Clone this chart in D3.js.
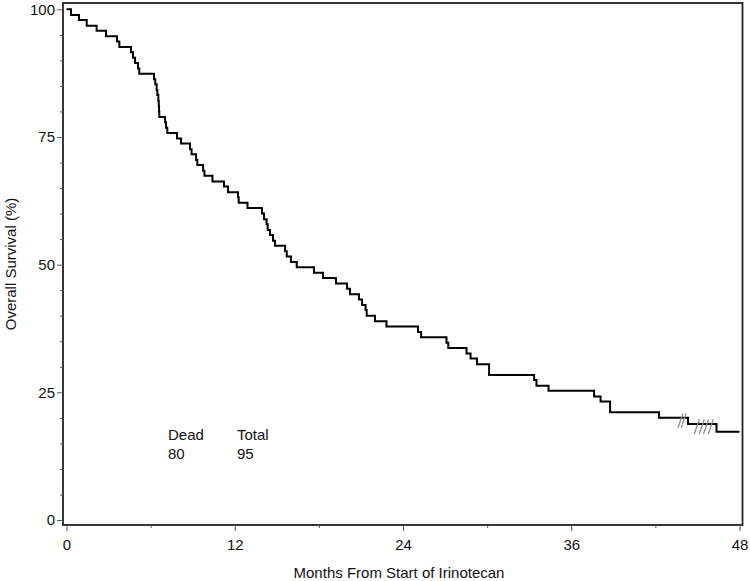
<!DOCTYPE html>
<html><head><meta charset="utf-8">
<script src="https://cdn.jsdelivr.net/npm/d3@7"></script>
<style>
body{margin:0;background:#fff}
svg{display:block}
text{font-family:Arial,"Liberation Sans",sans-serif;fill:#111}
</style>
</head><body>
<svg id="chart" width="750" height="581"></svg>
<script>
// ---- data ----
const stepMonths = [0, 0.32, 0.89, 1.44, 2.15, 2.82, 3.6, 3.77, 4.6, 4.74, 4.89, 5.1, 5.19,
  6.24, 6.33, 6.43, 6.48, 6.55, 6.58, 6.6, 6.62, 7.03, 7.1, 7.19, 7.88, 8.17, 8.81, 8.92,
  9.24, 9.33, 9.74, 9.84, 10.41, 11.23, 11.52, 12.23, 12.28, 12.91, 13.94, 14.09, 14.27,
  14.35, 14.51, 14.73, 14.87, 15.59, 15.71, 16.01, 16.42, 17.65, 18.3, 19.22, 20.01, 20.22,
  20.86, 21.08, 21.33, 21.41, 22.0, 22.82, 25.07, 25.29, 27.1, 27.23, 28.53, 28.82, 29.28,
  30.14, 33.35, 33.52, 34.38, 37.63, 38.09, 38.77, 42.26, 44.33, 46.36, 48];
const survivalPct = [100, 98.9, 97.9, 96.8, 95.8, 94.7, 93.7, 92.6, 91.6, 90.5, 89.5, 88.4, 87.4,
  86.3, 85.3, 84.2, 83.2, 82.1, 81.1, 80.0, 78.9, 77.9, 76.8, 75.8, 74.7, 73.7, 72.6, 71.6,
  70.5, 69.5, 68.4, 67.4, 66.3, 65.3, 64.2, 63.2, 62.1, 61.1, 60.0, 58.9, 57.9,
  56.8, 55.8, 54.7, 53.7, 52.6, 51.6, 50.5, 49.5, 48.4, 47.4, 46.3, 45.3, 44.2,
  43.2, 42.1, 41.1, 40.0, 38.9, 37.9, 36.8, 35.8, 34.7, 33.7, 32.6, 31.6, 30.5,
  28.4, 27.4, 26.3, 25.3, 24.2, 23.2, 21.1, 20.0, 18.8, 17.3, 17.3];
const censorMonths = [43.79, 44.01, 44.95, 45.31, 45.61, 45.95];
const censorPct = [20.0, 20.0, 18.8, 18.8, 18.8, 18.8];
const xTicks = [0, 12, 24, 36, 48];
const xMinorTicks = [6, 18, 30, 42];
const yTicks = [0, 25, 50, 75, 100];
const yMinorTicks = [5, 10, 15, 20, 30, 35, 40, 45, 55, 60, 65, 70, 80, 85, 90, 95];
const statHeaders = ["Dead", "Total"];
const statValues = ["80", "95"];
const xTitle = "Months From Start of Irinotecan";
const yTitle = "Overall Survival (%)";

// ---- layout ----
const svg = d3.select("#chart");
const frame = {left: 63, top: 3, right: 742.5, bottom: 525};
const x = d3.scaleLinear().domain([0, 48]).range([66.5, 739.5]);
const y = d3.scaleLinear().domain([0, 100]).range([520, 9.3]);

// frame box
svg.append("rect")
  .attr("x", frame.left).attr("y", frame.top)
  .attr("width", frame.right - frame.left).attr("height", frame.bottom - frame.top)
  .attr("fill", "none").attr("stroke", "#222").attr("stroke-width", 1.8);

// x axis
const gx = svg.append("g").attr("transform", `translate(0,${frame.bottom})`)
  .call(d3.axisBottom(x).tickValues(xTicks).tickSize(6).tickPadding(8).tickFormat(d3.format("d")));
const gxm = svg.append("g").attr("transform", `translate(0,${frame.bottom})`)
  .call(d3.axisBottom(x).tickValues(xMinorTicks).tickSize(3).tickFormat(""));
// y axis
const gy = svg.append("g").attr("transform", `translate(${frame.left},0)`)
  .call(d3.axisLeft(y).tickValues(yTicks).tickSize(6).tickPadding(2).tickFormat(d3.format("d")));
const gym = svg.append("g").attr("transform", `translate(${frame.left},0)`)
  .call(d3.axisLeft(y).tickValues(yMinorTicks).tickSize(3).tickFormat(""));
[gx, gxm, gy, gym].forEach(g => {
  g.select(".domain").remove();
  g.selectAll(".tick line").attr("stroke", "#555").attr("stroke-width", 1);
  g.selectAll(".tick text").attr("font-size", 15).attr("fill", "#111")
    .attr("font-family", "Arial, 'Liberation Sans', sans-serif");
});

// survival curve
const pts = stepMonths.map((t, i) => ({t, s: survivalPct[i]}));
svg.append("path").datum(pts)
  .attr("fill", "none").attr("stroke", "#000").attr("stroke-width", 2)
  .attr("stroke-linejoin", "miter")
  .attr("d", d3.line().x(d => x(d.t)).y(d => y(d.s)).curve(d3.curveStepAfter));

// censor marks
svg.append("g").selectAll("line").data(censorMonths.map((t, i) => ({t, s: censorPct[i]})))
  .join("line")
  .attr("x1", d => x(d.t) - 2.5).attr("y1", d => y(d.s) + 10)
  .attr("x2", d => x(d.t) + 2.5).attr("y2", d => y(d.s) - 4.5)
  .attr("stroke", "#8c8c8c").attr("stroke-width", 1.3);

// stats text
const statX = [168, 237];
statHeaders.forEach((h, i) => {
  svg.append("text").attr("x", statX[i]).attr("y", 440).attr("font-size", 15).text(h);
  svg.append("text").attr("x", statX[i]).attr("y", 459).attr("font-size", 15).text(statValues[i]);
});

// titles
svg.append("text").attr("x", 399).attr("y", 578).attr("text-anchor", "middle")
  .attr("font-size", 15).text(xTitle);
svg.append("text").attr("transform", "translate(16,264) rotate(-90)")
  .attr("text-anchor", "middle").attr("font-size", 15).text(yTitle);
</script>
</body></html>
